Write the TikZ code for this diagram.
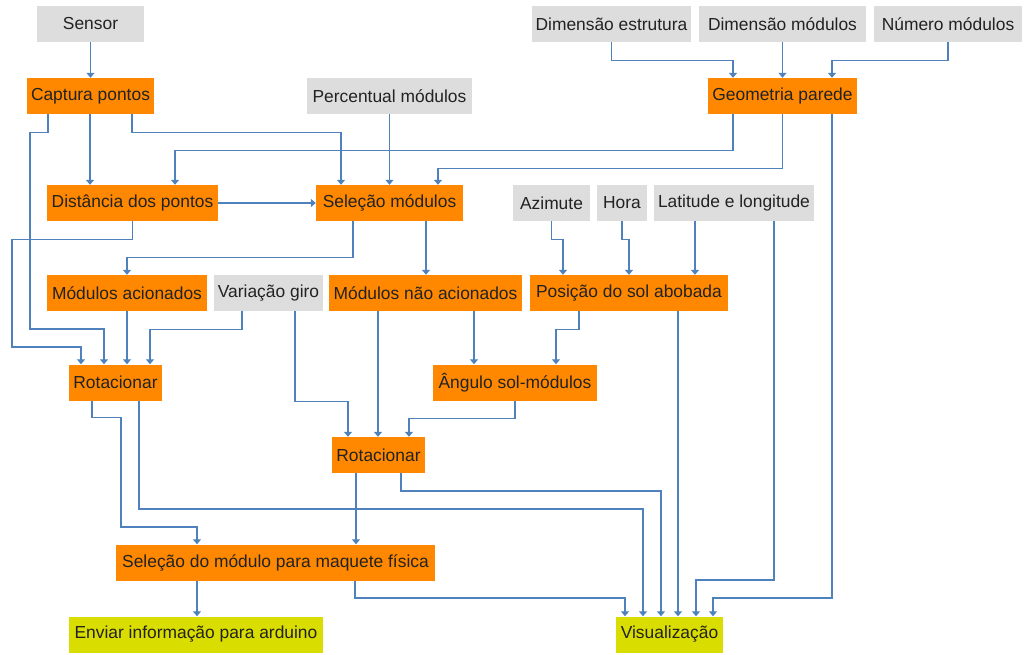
\documentclass[tikz,border=0pt]{standalone}
\usepackage{fontspec}
\setmainfont{Liberation Sans}
\usetikzlibrary{arrows.meta}
\definecolor{boxorange}{RGB}{255,136,0}
\definecolor{boxgray}{RGB}{221,221,221}
\definecolor{boxyellow}{RGB}{218,221,0}
\definecolor{linkblue}{RGB}{79,129,189}
\definecolor{txtdark}{RGB}{34,34,34}

\begin{document}
\begin{tikzpicture}[x=1pt,y=1pt,yscale=-1,xscale=1,
    box/.style={inner sep=0pt,minimum height=36pt,text=txtdark,font=\fontsize{17.4}{20}\selectfont},
    inbox/.style={box,fill=boxgray},
    procbox/.style={box,fill=boxorange},
    outbox/.style={box,fill=boxyellow},
    flow/.style={draw=linkblue,line width=1.2pt,-{Triangle[length=5pt,width=8pt]}}]
        \useasboundingbox (0,0) rectangle (1027,655);
        % Text Node
        \node [inbox,minimum width=107pt] (sensor) at (90.5,24) {Sensor};
        % Text Node
        \node [inbox,minimum width=159pt] (dimE) at (611.5,24) {Dimensão estrutura};
        % Text Node
        \node [inbox,minimum width=167pt] (dimM) at (782.5,24) {Dimensão módulos};
        % Text Node
        \node [inbox,minimum width=148pt] (num) at (948,24) {Número módulos};
        % Text Node
        \node [procbox,minimum width=127pt] (capt) at (90.5,96) {Captura pontos};
        % Text Node
        \node [inbox,minimum width=165pt] (perc) at (389.5,96) {Percentual módulos};
        % Text Node
        \node [procbox,minimum width=149pt] (geo) at (782.5,96) {Geometria parede};
        % Text Node
        \node [procbox,minimum width=171pt] (dist) at (132.5,203) {Distância dos pontos};
        % Text Node
        \node [procbox,minimum width=147pt] (sel) at (389.5,203) {Seleção módulos};
        % Text Node
        \node [inbox,minimum width=77pt] (azi) at (551.5,203) {Azimute};
        % Text Node
        \node [inbox,minimum width=50pt] (hora) at (622,203) {Hora};
        % Text Node
        \node [inbox,minimum width=160pt] (lat) at (734,203) {Latitude e longitude};
        % Text Node
        \node [procbox,minimum width=160pt] (modA) at (127,293) {Módulos acionados};
        % Text Node
        \node [inbox,minimum width=109pt] (var) at (268.5,293) {Variação giro};
        % Text Node
        \node [procbox,minimum width=193pt] (modN) at (425.5,293) {Módulos não acionados};
        % Text Node
        \node [procbox,minimum width=198pt] (pos) at (629,293) {Posição do sol abobada};
        % Text Node
        \node [procbox,minimum width=93pt] (rot1) at (115.5,382.5) {Rotacionar};
        % Text Node
        \node [procbox,minimum width=164pt] (ang) at (515,382.5) {Ângulo sol-módulos};
        % Text Node
        \node [procbox,minimum width=93pt] (rot2) at (378.5,455) {Rotacionar};
        % Text Node
        \node [procbox,minimum width=319pt] (selM) at (275.5,562.5) {Seleção do módulo para maquete física};
        % Text Node
        \node [outbox,minimum width=254pt] (env) at (196,634.5) {Enviar informação para arduino};
        % Text Node
        \node [outbox,minimum width=107pt] (vis) at (669.5,634.5) {Visualização};

        %Connectors from the inputs
        \draw [flow] (sensor) -- (capt);
        \draw [flow] (dimE.south) -- ++(0,18) -| (geo.north -| 733,0);
        \draw [flow] (dimM) -- (geo);
        \draw [flow] (num.south) -- ++(0,18) -| (geo.north -| 832,0);
        \draw [flow] (perc) -- (sel);
        \draw [flow] (azi.south) -- ++(0,18) -| (pos.north -| 563,0);
        \draw [flow] (hora.south) -- ++(0,18) -| (pos.north -| 629,0);
        \draw [flow] (lat.south -| 695,0) -- (pos.north -| 695,0);
        \draw [flow] (lat.south -| 774,0) -- (774,580) -| (vis.north -| 696,0);
        \draw [flow] (var.south -| 242,0) -- ++(0,18) -| (rot1.north -| 150,0);
        \draw [flow] (var.south -| 295,0) -- ++(0,90) -| (rot2.north -| 348,0);

        %Connectors from Captura pontos
        \draw [flow] (capt.south -| 90,0) -- (dist.north -| 90,0);
        \draw [flow] (capt.south -| 132,0) -- ++(0,18) -| (sel.north -| 341,0);
        \draw [flow] (capt.south -| 48,0) -- ++(0,18) -| (30,329) -| (rot1.north -| 104,0);

        %Connectors from Geometria parede
        \draw [flow] (geo.south -| 733,0) -- ++(0,36) -| (dist.north -| 175,0);
        \draw [flow] (geo.south) -- ++(0,54) -| (sel.north -| 438,0);
        \draw [flow] (geo.south -| 832,0) -- (832,598) -| (vis.north -| 713,0);

        %Connectors in the middle
        \draw [flow] (dist) -- (sel);
        \draw [flow] (dist.south) -- ++(0,18) -| (12,347) -| (rot1.north -| 81,0);
        \draw [flow] (sel.south -| 353,0) -- ++(0,36) -| (modA.north);
        \draw [flow] (sel.south -| 426,0) -- (modN.north -| 426,0);
        \draw [flow] (modA.south) -- (rot1.north -| modA.south);
        \draw [flow] (modN.south -| 378,0) -- (rot2.north -| 378,0);
        \draw [flow] (modN.south -| 474,0) -- (ang.north -| 474,0);
        \draw [flow] (pos.south -| 579,0) -- ++(0,18) -| (ang.north -| 556,0);
        \draw [flow] (pos.south -| 678,0) -- (vis.north -| 678,0);
        \draw [flow] (ang.south) -- ++(0,18) -| (rot2.north -| 409,0);

        %Connectors to the outputs
        \draw [flow] (rot1.south -| 92,0) -- ++(0,17) -| (121,527) -| (selM.north -| 197,0);
        \draw [flow] (rot1.south -| 139,0) -- (139,509) -| (vis.north -| 643,0);
        \draw [flow] (rot2.south -| 356,0) -- (selM.north -| 356,0);
        \draw [flow] (rot2.south -| 401,0) -- (401,491) -| (vis.north -| 661,0);
        \draw [flow] (selM.south -| 197,0) -- (env.north -| 197,0);
        \draw [flow] (selM.south -| 355,0) -- (355,598) -| (vis.north -| 625,0);
\end{tikzpicture}
\end{document}
